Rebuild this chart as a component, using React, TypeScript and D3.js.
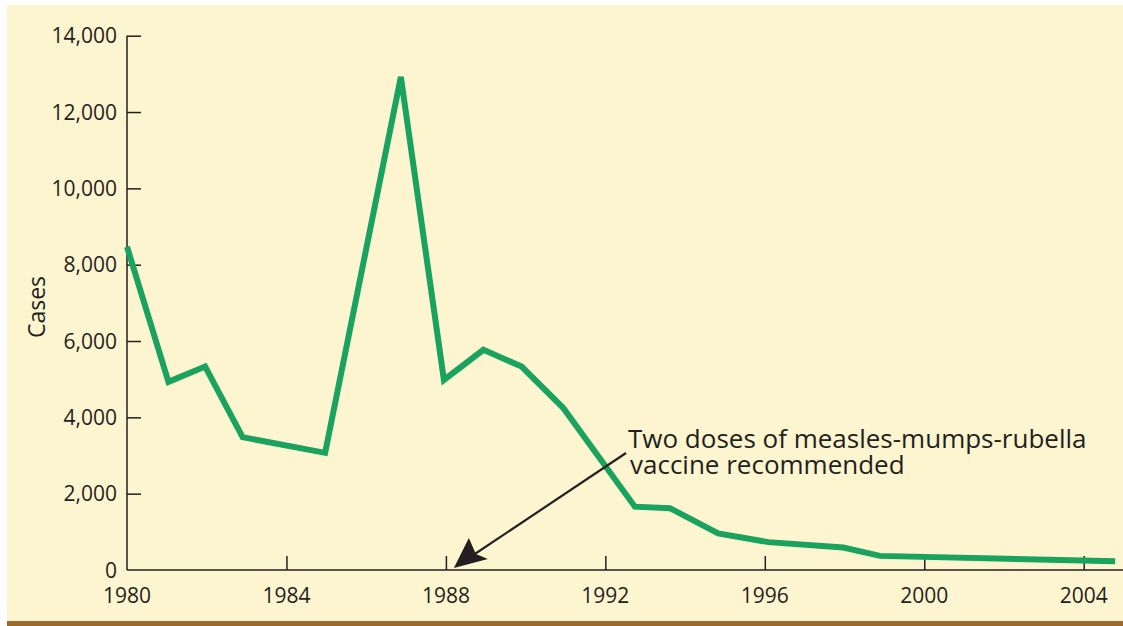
import React, { useEffect, useRef } from 'react'
import * as d3 from 'd3'

// mumps cases (year positions as drawn)
const years = [1980, 1981.04, 1981.96, 1982.9, 1984.97, 1986.87, 1987.95, 1988.94, 1989.9, 1990.94, 1992.74, 1993.62, 1994.83, 1996.09, 1997.97, 1998.89, 2004.79]
const cases = [8470, 4930, 5330, 3480, 3070, 12920, 4980, 5770, 5330, 4250, 1660, 1620, 960, 730, 590, 370, 230]

const yTicks = [0, 2000, 4000, 6000, 8000, 10000, 12000, 14000]
const xTicks = [1980, 1984, 1988, 1992, 1996, 2000, 2004]
const noteLines = ['Two doses of measles-mumps-rubella', 'vaccine recommended']
const noteYear = 1988.2

const W = 1123
const H = 626
const FONT = '"Open Sans", "Noto Sans", sans-serif'
const INK = '#231f20'

export default function App() {
  const ref = useRef<SVGSVGElement>(null)

  useEffect(() => {
    const svg = d3.select(ref.current)
    svg.selectAll('*').remove()

    // panel + bottom rule
    svg.append('rect').attr('x', 7).attr('y', 5).attr('width', W - 7).attr('height', 616).attr('fill', '#fdf5cf')
    svg.append('rect').attr('x', 7).attr('y', 621).attr('width', W - 7).attr('height', 5).attr('fill', '#9b6a2c')

    var x = d3.scaleLinear().domain([1980, 2004]).range([127, 1083.7])
    var y = d3.scaleLinear().domain([0, 14000]).range([570, 35.7])

    // y axis
    const gy = svg.append('g').attr('transform', 'translate(127,0)')
    gy.call(d3.axisRight(y).tickValues(yTicks.slice(1)).tickSize(14).tickFormat(() => ''))
    gy.select('.domain').remove()
    gy.selectAll('line').attr('stroke', INK).attr('stroke-width', 1.5)
    gy.append('line').attr('x1', 0).attr('x2', 0).attr('y1', y(14000)).attr('y2', y(0)).attr('stroke', INK).attr('stroke-width', 1.5)
    gy.selectAll('text.lab')
      .data(yTicks)
      .enter().append('text')
      .attr('class', 'lab')
      .attr('x', -10)
      .attr('y', d => y(d))
      .attr('dy', '0.36em')
      .attr('text-anchor', 'end')
      .attr('font-family', FONT)
      .attr('font-size', 21)
      .attr('fill', INK)
      .text(d => d3.format(',')(d))

    // x axis
    const gx = svg.append('g').attr('transform', 'translate(0,570)')
    gx.call(d3.axisTop(x).tickValues(xTicks.slice(1)).tickSize(14).tickFormat(() => ''))
    gx.select('.domain').remove()
    gx.selectAll('line').attr('stroke', INK).attr('stroke-width', 1.5)
    gx.append('line').attr('x1', 127).attr('x2', W).attr('y1', 0).attr('y2', 0).attr('stroke', INK).attr('stroke-width', 1.5)
    gx.selectAll('text.lab')
      .data(xTicks)
      .enter().append('text')
      .attr('class', 'lab')
      .attr('x', d => x(d))
      .attr('y', 33)
      .attr('text-anchor', 'middle')
      .attr('font-family', FONT)
      .attr('font-size', 21)
      .attr('fill', INK)
      .text(d => d)

    // y title
    svg.append('text')
      .attr('transform', 'translate(45,307) rotate(-90)')
      .attr('text-anchor', 'middle')
      .attr('font-family', FONT)
      .attr('font-size', 23)
      .attr('fill', INK)
      .text('Cases')

    // the line
    const pts = years.map((d, i) => [x(d), y(cases[i])] as [number, number])
    svg.append('path')
      .attr('d', d3.line()(pts))
      .attr('fill', 'none')
      .attr('stroke', '#1aa35f')
      .attr('stroke-width', 6)
      .attr('stroke-linejoin', 'miter')

    // annotation arrow
    const tipX = x(noteYear)
    const tipY = y(0) - 2
    svg.append('line')
      .attr('x1', 626).attr('y1', 453)
      .attr('x2', tipX + 15).attr('y2', tipY - 10)
      .attr('stroke', INK).attr('stroke-width', 2.2)
    svg.append('path')
      .attr('d', `M${tipX},${tipY} L${tipX + 15},${tipY - 30} L${tipX + 22},${tipY - 14} L${tipX + 34},${tipY - 9} Z`)
      .attr('fill', INK)

    noteLines.forEach((t, i) => {
      svg.append('text')
        .attr('x', 628 + i * 2)
        .attr('y', 448 + i * 26)
        .attr('font-family', FONT)
        .attr('font-size', 26)
        .attr('fill', INK)
        .text(t)
    })
  }, [])

  return (
    <svg ref={ref} width={W} height={H} style={{ position: 'absolute', left: 0, top: 0 }} />
  )
}
